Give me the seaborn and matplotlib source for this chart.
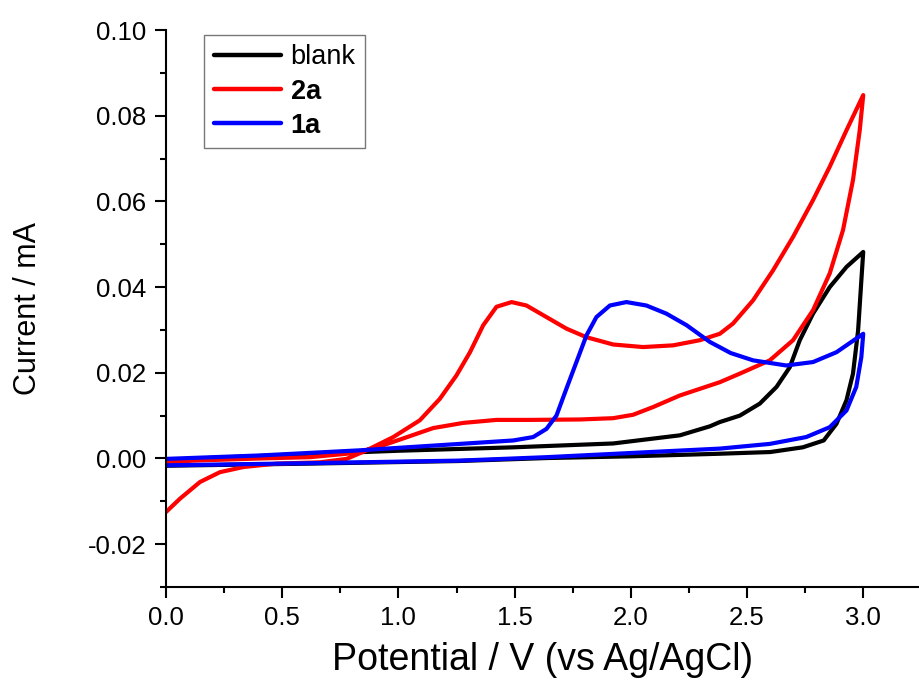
import numpy as np
import pandas as pd
import seaborn as sns
import matplotlib.pyplot as plt
from matplotlib.ticker import MultipleLocator

# cyclic voltammograms, forward scan then return scan (V, mA)
blank_v = [0.00, 0.62, 1.26, 1.64, 2.00, 2.38, 2.60, 2.74, 2.83, 2.885, 2.928, 2.956, 2.978, 2.992, 3.00,
           2.928, 2.856, 2.784, 2.727, 2.684, 2.627, 2.555, 2.469, 2.383, 2.34, 2.211, 1.924, 1.494,
           1.00, 0.50, 0.00]
blank_i = [-0.0017, -0.0012, -0.0006, 0.0001, 0.0005, 0.0011, 0.0015, 0.0026, 0.0042, 0.0081, 0.0136,
           0.0198, 0.0299, 0.0416, 0.0482,
           0.0447, 0.0400, 0.0338, 0.0276, 0.0213, 0.0167, 0.0128, 0.0100, 0.0085, 0.0075, 0.0054,
           0.0035, 0.0026, 0.0018, 0.0008, -0.0003]

red_v = [0.00, 0.06, 0.146, 0.232, 0.333, 0.476, 0.662, 0.777, 0.863, 0.978, 1.092, 1.178, 1.25, 1.308,
         1.365, 1.422, 1.487, 1.551, 1.637, 1.723, 1.809, 1.924, 2.053, 2.182, 2.297, 2.383, 2.44,
         2.526, 2.612, 2.698, 2.784, 2.856, 2.928, 3.00,
         2.985, 2.956, 2.913, 2.856, 2.784, 2.698, 2.598, 2.469, 2.383, 2.211, 2.096, 2.010, 1.924,
         1.781, 1.566, 1.422, 1.279, 1.15, 1.006, 0.892, 0.777, 0.619, 0.404, 0.117, 0.00]
red_i = [-0.0125, -0.0094, -0.0055, -0.0032, -0.0020, -0.0012, -0.0009, -0.0001, 0.0019, 0.0050,
         0.0089, 0.0139, 0.0194, 0.0248, 0.0311, 0.0354, 0.0365, 0.0357, 0.0330, 0.0303, 0.0283,
         0.0266, 0.0260, 0.0264, 0.0276, 0.0291, 0.0315, 0.0369, 0.0439, 0.0517, 0.0603, 0.0681,
         0.0766, 0.0848,
         0.0766, 0.0650, 0.0533, 0.0432, 0.0346, 0.0276, 0.0229, 0.0198, 0.0178, 0.0147, 0.0120,
         0.0102, 0.0094, 0.0091, 0.0090, 0.0090, 0.0083, 0.0071, 0.0044, 0.0023, 0.0011, 0.0003,
         0.0000, -0.0005, -0.0009]

blue_v = [0.00, 0.404, 0.834, 1.207, 1.494, 1.58, 1.637, 1.68, 1.723, 1.766, 1.809, 1.852, 1.91, 1.981,
          2.067, 2.153, 2.24, 2.34, 2.43, 2.526, 2.669, 2.784, 2.885, 3.00,
          2.992, 2.970, 2.928, 2.856, 2.755, 2.598, 2.383, 1.637, 1.264, 0.619, 0.00]
blue_i = [-0.0001, 0.0007, 0.0019, 0.0032, 0.0042, 0.0050, 0.0069, 0.0100, 0.0163, 0.0225, 0.0287,
          0.0330, 0.0357, 0.0365, 0.0357, 0.0338, 0.0311, 0.0272, 0.0246, 0.0229, 0.0217, 0.0225,
          0.0248, 0.0291,
          0.0237, 0.0167, 0.0112, 0.0073, 0.0050, 0.0034, 0.0023, 0.0003, -0.0005, -0.0011, -0.0016]

sns.set_style("ticks")
plt.rcParams['font.family'] = ['Liberation Sans', 'DejaVu Sans']
plt.rcParams['text.color'] = 'black'
plt.rcParams['axes.labelcolor'] = 'black'

fig = plt.figure(figsize=(9.19, 6.93), dpi=100)
ax = fig.add_axes([166/919, 1 - 587/693, 1 - 166/919, (587 - 30)/693])

lw = 3.0
sns.lineplot(x=blank_v, y=blank_i, sort=False, estimator=None, color='black', linewidth=lw,
             label='blank', ax=ax)
sns.lineplot(x=red_v, y=red_i, sort=False, estimator=None, color='#ff0000', linewidth=lw,
             label='2a', ax=ax)
sns.lineplot(x=blue_v, y=blue_i, sort=False, estimator=None, color='#0000ff', linewidth=lw,
             label='1a', ax=ax)
for ln in ax.get_lines():
    ln.set_solid_joinstyle('round')
    ln.set_linewidth(lw)

ax.set_xlim(0, 3.24)
ax.set_ylim(-0.03, 0.10)
ax.xaxis.set_minor_locator(MultipleLocator(0.25))
ax.yaxis.set_minor_locator(MultipleLocator(0.01))
ax.set_xticks(np.arange(0, 3.01, 0.5))
ax.set_xticklabels(['0.0', '0.5', '1.0', '1.5', '2.0', '2.5', '3.0'])
ax.set_yticks(np.arange(-0.02, 0.101, 0.02))
ax.set_yticklabels(['-0.02', '0.00', '0.02', '0.04', '0.06', '0.08', '0.10'])

sns.despine(ax=ax)
for s in ['left', 'bottom']:
    ax.spines[s].set_linewidth(1.5)
    ax.spines[s].set_color('black')
ax.tick_params(which='major', length=8, width=1.5, labelsize=18.5, colors='black', pad=6)
ax.tick_params(which='minor', length=4.5, width=1.5, colors='black')

ax.set_xlabel('Potential / V (vs Ag/AgCl)', fontsize=27, labelpad=8, color='black')
ax.set_ylabel('Current / mA', fontsize=22, labelpad=32, color='black')

leg = ax.legend(loc='upper left', bbox_to_anchor=(0.0505, 0.991), borderaxespad=0, fontsize=19.5,
                frameon=True, fancybox=False, handlelength=2.5, handletextpad=0.35,
                labelspacing=0.3, borderpad=0.35, edgecolor='#555555')
leg.get_frame().set_linewidth(1.0)
for t in leg.get_texts():
    t.set_color('black')
for t in leg.get_texts()[1:]:
    t.set_fontweight('bold')
for h in leg.get_lines():
    h.set_linewidth(3.2)

fig.savefig('out.png', dpi=100)
